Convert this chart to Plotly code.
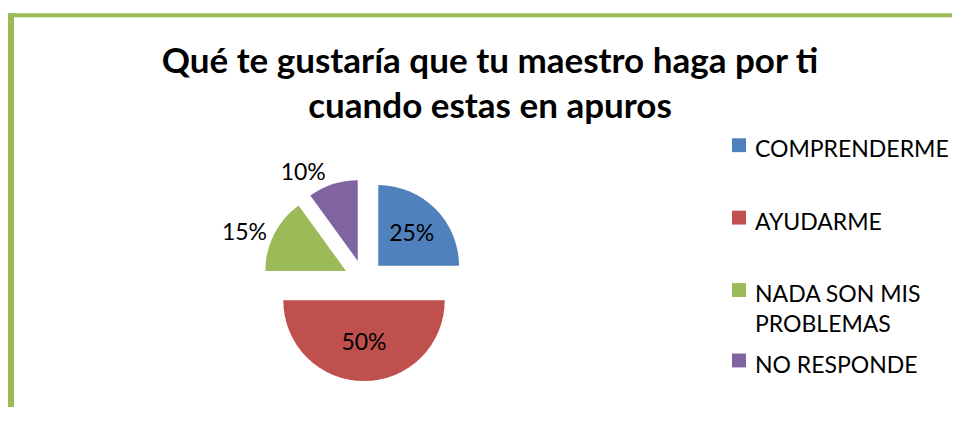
import plotly.graph_objects as go

# data
labels = ["COMPRENDERME", "AYUDARME", "NADA SON MIS PROBLEMAS", "NO RESPONDE"]
values = [25, 50, 15, 10]
legend_text = ["COMPRENDERME", "AYUDARME", "NADA SON MIS<br>PROBLEMAS", "NO RESPONDE"]
colors = ["#4F81BD", "#C0504D", "#9BBB59", "#8064A2"]
text_pos = ["inside", "inside", "outside", "outside"]

# body has an 8px margin; the captured page comes out ~4% shorter vertically,
# so vertical positions are given in target pixels and divided by SY
OFF = 8
SY = 0.96
W, H = 960 - OFF, 427 - OFF
FONT = "Lato"

def px(x):
    return (x - OFF) / W

def py(y):
    return 1 - (y / SY - OFF) / H

# pie placed by its domain (target coords)
cx, cy, size = 364, 282, 212

fig = go.Figure()
fig.add_trace(go.Pie(
    labels=labels, values=values, sort=False, direction="clockwise",
    marker=dict(colors=colors, line=dict(width=0)),
    pull=[0.25] * 4,
    textinfo="percent", textposition=text_pos,
    insidetextorientation="horizontal",
    textfont=dict(family=FONT, size=23, color="black"),
    domain=dict(x=[px(cx - size / 2), px(cx + size / 2)],
                y=[1 - ((cy / SY + size / 2) - OFF) / H, 1 - ((cy / SY - size / 2) - OFF) / H]),
    showlegend=False, hoverinfo="label+percent",
))

# legend drawn by hand (fixed spacing like the original)
shapes = []
annotations = []
leg_y = [146, 219, 292, 363]
for i, (t, c) in enumerate(zip(legend_text, colors)):
    y = leg_y[i]
    shapes.append(dict(type="rect", xref="paper", yref="paper",
                       x0=px(732), x1=px(746), y0=py(y + 7), y1=py(y - 7),
                       fillcolor=c, line=dict(width=0)))
    annotations.append(dict(text=t, xref="paper", yref="paper",
                            x=px(753), y=py(y - 13), xanchor="left", yanchor="top",
                            align="left", showarrow=False,
                            font=dict(family=FONT, size=23, color="black")))

# green frame (left and top edges)
shapes.append(dict(type="rect", xref="paper", yref="paper",
                   x0=0, x1=px(14), y0=0, y1=py(13),
                   fillcolor="#9BBB59", line=dict(width=0)))
shapes.append(dict(type="rect", xref="paper", yref="paper",
                   x0=0, x1=1, y0=py(17), y1=py(13),
                   fillcolor="#9BBB59", line=dict(width=0)))

fig.update_layout(
    width=W, height=H,
    margin=dict(l=0, r=0, t=0, b=0),
    paper_bgcolor="white", plot_bgcolor="white",
    title=dict(text="<b>Qué te gustaría que tu maestro haga por ti<br>cuando estas en apuros</b>",
               x=px(490), xanchor="center", y=py(70), yanchor="middle",
               font=dict(family=FONT, size=35, color="black")),
    shapes=shapes, annotations=annotations,
)

fig.write_html("out.html")
